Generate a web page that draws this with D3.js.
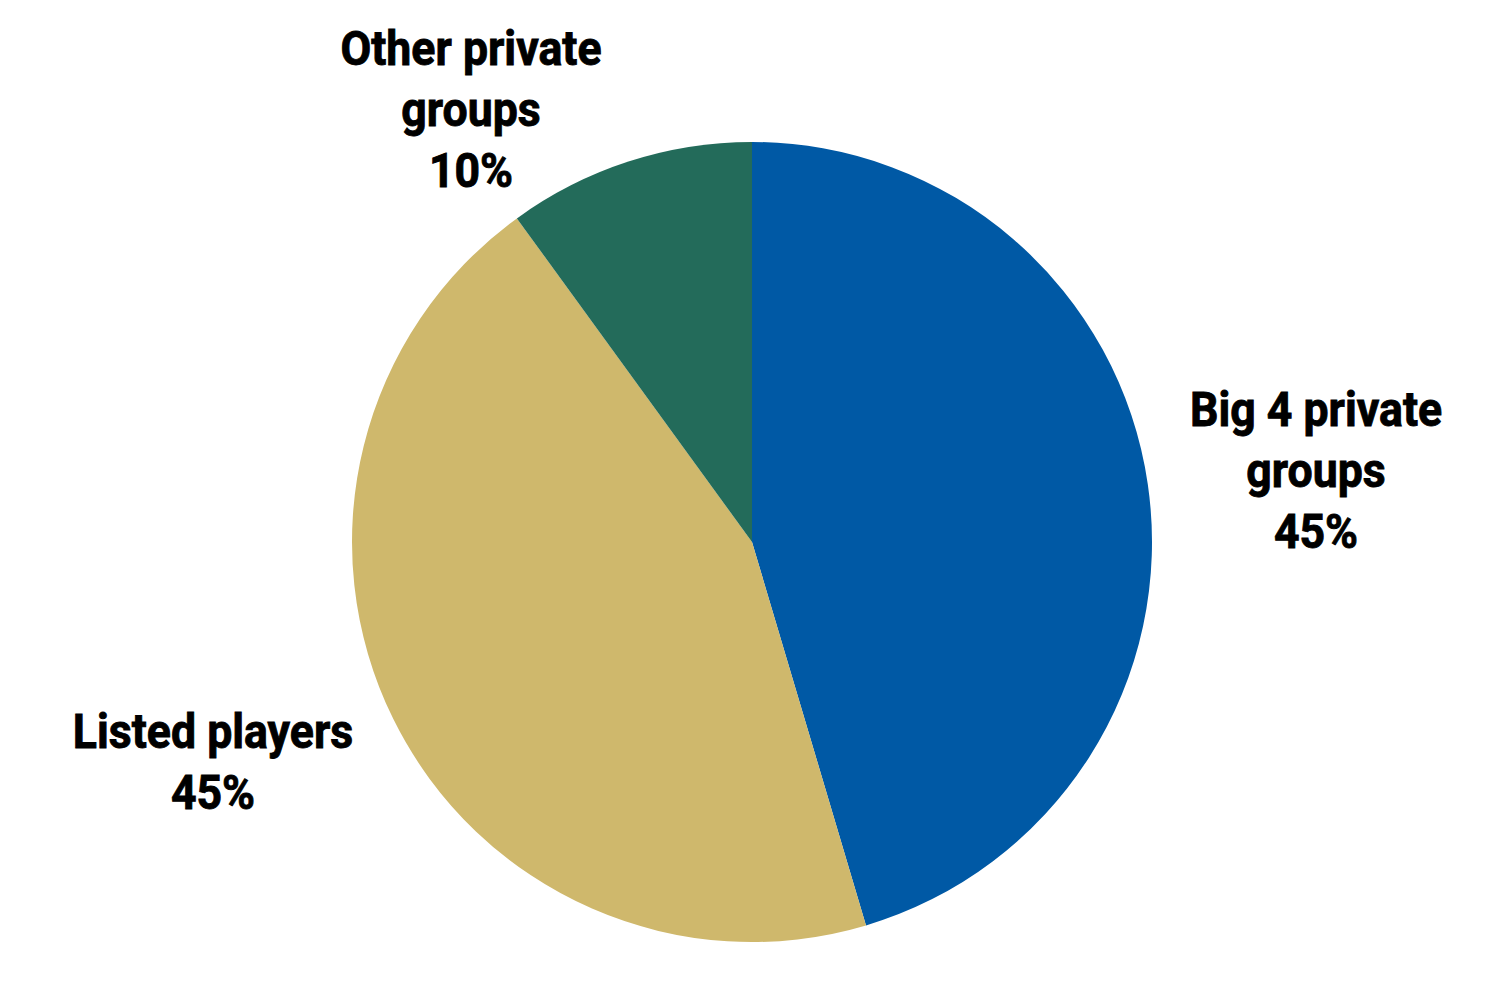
<!DOCTYPE html>
<html><head><meta charset="utf-8">
<script src="https://cdn.jsdelivr.net/npm/d3@7"></script>
<style>body{margin:0;background:#fff;} svg{display:block;}</style>
</head><body>
<svg id="chart" width="1500" height="1000"></svg>
<script>
const categories = ["Big 4 private groups", "Listed players", "Other private groups"];
const values = [45.4, 44.6, 10.0];
const colors = ["#0059a5", "#cfb86c", "#236b5a"];
const labelLines = [["Big 4 private", "groups"], ["Listed players"], ["Other private", "groups"]];
const labelPos = [[1316, 426], [213, 748], [471, 65]]; // anchor of first baseline

const svg = d3.select("#chart");
const cx = 752, cy = 542, r = 400;
const pie = d3.pie().sort(null).value(d => d)(values);
const arc = d3.arc().innerRadius(0).outerRadius(r);
const g = svg.append("g").attr("transform", `translate(${cx},${cy})`);
g.selectAll("path").data(pie).join("path")
  .attr("d", arc).attr("fill", (d, i) => colors[i]);

const lineH = 61;
categories.forEach((c, i) => {
  const lines = labelLines[i].concat([Math.round(values[i]) + "%"]);
  const lg = svg.append("g")
    .attr("transform", `translate(${labelPos[i][0]},${labelPos[i][1]}) scale(0.93,1)`);
  lg.selectAll("text").data(lines).join("text")
    .attr("x", 0).attr("y", (d, j) => j * lineH)
    .attr("text-anchor", "middle")
    .attr("font-family", "Roboto")
    .attr("font-weight", "bold")
    .attr("font-size", 48)
    .attr("fill", "#000")
    .attr("stroke", "#000")
    .attr("stroke-width", 0.9)
    .text(d => d);
});
</script>
</body></html>
